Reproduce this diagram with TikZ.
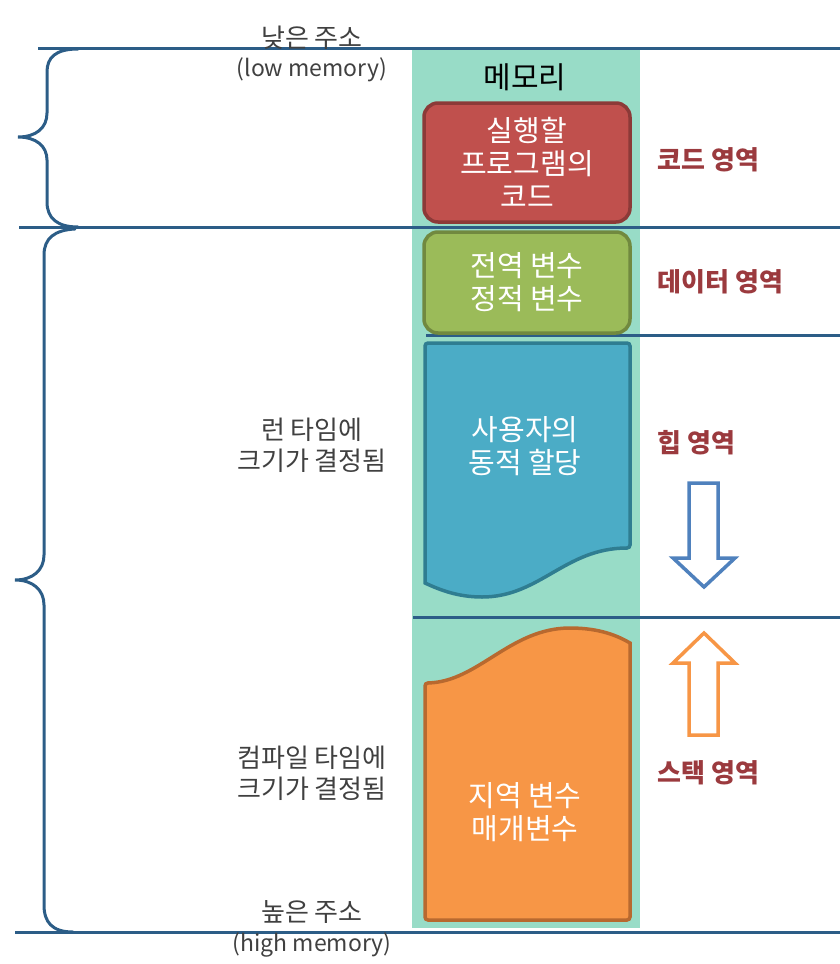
\documentclass[tikz,border=0pt]{standalone}
\usepackage{fontspec}
\setmainfont{Noto Sans CJK KR}
\usetikzlibrary{positioning}
\definecolor{lineBlue}{HTML}{2C5D87}
\definecolor{memTeal}{HTML}{98DCC7}
\definecolor{codeFill}{HTML}{C0504D}
\definecolor{codeEdge}{HTML}{8C3A38}
\definecolor{dataFill}{HTML}{9BBB59}
\definecolor{dataEdge}{HTML}{71893F}
\definecolor{heapFill}{HTML}{4BACC6}
\definecolor{heapEdge}{HTML}{2F7D91}
\definecolor{stackFill}{HTML}{F79646}
\definecolor{stackEdge}{HTML}{B8692F}
\definecolor{arrBlue}{HTML}{4F81BD}
\definecolor{areaRed}{HTML}{9B3A3E}
\definecolor{grayTxt}{HTML}{404040}
\begin{document}
\begin{tikzpicture}[x=1pt,y=-1pt,
    memLine/.style={draw=lineBlue,line width=3pt},
    segBox/.style={rounded corners=14pt,line width=3.5pt,minimum width=206pt,text=white,align=center,font=\fontsize{29}{33}\selectfont},
    segTxt/.style={text=white,align=center,font=\fontsize{29}{33}\selectfont},
    areaLbl/.style={anchor=west,text=areaRed,font=\bfseries\fontsize{26}{28}\selectfont},
    addrLbl/.style={text=grayTxt,align=center,font=\fontsize{26}{31}\selectfont},
    memLbl/.style={text=grayTxt,font=\fontsize{23}{31}\selectfont},
    blkArrow/.style={fill=white,line width=3.5pt,line join=miter},
]
\useasboundingbox (0,0) rectangle (840,964);
% memory column
\fill[memTeal] (412,48) rectangle (640,928);
\node[font=\fontsize{30}{32}\selectfont] (memTitle) at (525,77) {메모리};
% separators
\draw[memLine] (38,48) -- (840,48);
\draw[memLine] (19,227) -- (840,227);
\draw[memLine] (426,335) -- (840,335);
\draw[memLine] (413,617) -- (840,617);
\draw[memLine] (15,932) -- (840,932);
% braces
\draw[memLine,line cap=round] (78,49) .. controls (55,49) and (47,58) .. (47,72) -- (47,113)
    .. controls (47,128) and (36,137) .. (18,137) .. controls (36,137) and (47,146) .. (47,160)
    -- (47,202) .. controls (47,218) and (57,227) .. (78,227);
\draw[memLine,line cap=round] (75,229) .. controls (55,230) and (44,238) .. (44,255) -- (44,555)
    .. controls (44,570) and (33,580) .. (15,580) .. controls (33,580) and (44,590) .. (44,605)
    -- (44,905) .. controls (44,922) and (52,932) .. (73,932);
% code segment
\node[segBox,fill=codeFill,draw=codeEdge,minimum height=119pt] (codeBox) at (527,162.5) {실행할\\프로그램의\\코드};
\node[areaLbl] (codeLbl) at (654,160) {코드 영역};
% data segment
\node[segBox,fill=dataFill,draw=dataEdge,minimum height=101pt] (dataBox) at (527,282.5) {전역 변수\\정적 변수};
\node[areaLbl] (dataLbl) at (654,282) {데이터 영역};
% heap
\draw[heapEdge,fill=heapFill,line width=3.5pt,rounded corners=3pt] (425,583) -- (425,343) -- (630,343) -- (630,548)
    [sharp corners] .. controls (565,548) and (540,597) .. (482,597) .. controls (458,597) and (440,590) .. (425,583) -- cycle;
\node[segTxt] (heapTxt) at (525,446) {사용자의\\동적 할당};
\node[areaLbl] (heapLbl) at (654,443) {힙 영역};
\draw[blkArrow,draw=arrBlue] (689,483) -- (718,483) -- (718,558) -- (735,558) -- (704,587) -- (673,558) -- (689,558) -- cycle;
% stack
\draw[stackEdge,fill=stackFill,line width=3.5pt,rounded corners=3pt] (425,920) -- (425,683)
    [sharp corners] .. controls (478,682) and (510,628) .. (570,628) .. controls (600,628) and (618,636) .. (630,643)
    [rounded corners=3pt] -- (630,920) -- cycle;
\node[segTxt] (stackTxt) at (525,812) {지역 변수\\매개변수};
\node[areaLbl] (stackLbl) at (654,773) {스택 영역};
\draw[blkArrow,draw=stackFill] (704,633) -- (735,663) -- (718,663) -- (718,735) -- (689,735) -- (689,663) -- (673,663) -- cycle;
% address labels
\node[addrLbl] (lowAddr) at (312,38) {낮은 주소};
\node[memLbl] (lowMem) at (312,70) {(low memory)};
\node[addrLbl] (runTime) at (312,445) {런 타임에\\크기가 결정됨};
\node[addrLbl] (compTime) at (312,773) {컴파일 타임에\\크기가 결정됨};
\node[addrLbl] (highAddr) at (312,912) {높은 주소};
\node[memLbl] (highMem) at (312,945) {(high memory)};
\end{tikzpicture}
\end{document}
